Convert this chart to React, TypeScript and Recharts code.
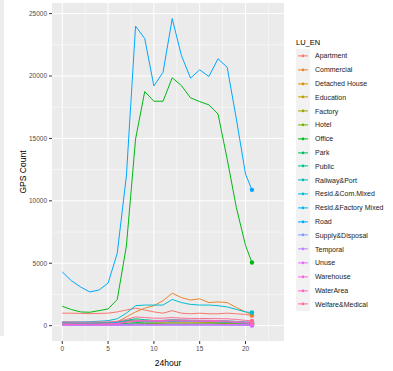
import React from "react";
import { LineChart, Line, XAxis, YAxis, CartesianGrid, Label } from "recharts";

// hour of day (last sample sits just past 20)
const hours = [0, 1, 2, 3, 4, 5, 6, 7, 8, 9, 10, 11, 12, 13, 14, 15, 16, 17, 18, 19, 20, 20.7];

const landUses = [
  "Apartment",
  "Commercial",
  "Detached House",
  "Education",
  "Factory",
  "Hotel",
  "Office",
  "Park",
  "Public",
  "Railway&Port",
  "Resid.&Com.Mixed",
  "Resid.&Factory Mixed",
  "Road",
  "Supply&Disposal",
  "Temporal",
  "Unuse",
  "Warehouse",
  "WaterArea",
  "Welfare&Medical",
];

// GPS counts per land use
const apartment = [1000, 1000, 980, 960, 980, 1000, 1100, 1250, 1400, 1250, 1100, 1000, 1200, 1000, 950, 1000, 950, 950, 1000, 950, 900, 800];
const commercial = [120, 110, 100, 100, 100, 120, 300, 700, 1100, 1400, 1600, 2000, 2600, 2250, 2050, 2150, 1850, 1900, 1850, 1450, 1100, 850];
const detachedHouse = [200, 190, 180, 180, 180, 190, 220, 300, 350, 320, 300, 300, 320, 300, 300, 300, 300, 300, 290, 270, 250, 230];
const education = [30, 30, 30, 30, 30, 40, 80, 300, 400, 350, 300, 300, 280, 300, 300, 280, 250, 200, 150, 100, 80, 60];
const factory = [150, 140, 130, 130, 140, 160, 250, 400, 450, 380, 350, 360, 380, 360, 350, 350, 340, 330, 300, 260, 220, 200];
const hotel = [100, 90, 80, 80, 80, 90, 100, 130, 160, 170, 170, 180, 200, 190, 190, 190, 190, 190, 180, 160, 140, 120];
const office = [1550, 1290, 1100, 1070, 1200, 1340, 2090, 6380, 14950, 18760, 17980, 17980, 19860, 19240, 18250, 17950, 17690, 16960, 13340, 9460, 6430, 5060];
const park = [80, 70, 60, 60, 60, 70, 100, 180, 250, 280, 300, 320, 350, 340, 340, 330, 320, 300, 270, 220, 170, 150];
const publicUse = [250, 240, 230, 230, 240, 260, 300, 420, 550, 480, 420, 420, 480, 450, 430, 420, 420, 400, 380, 340, 300, 280];
const railwayPort = [50, 50, 50, 50, 50, 50, 60, 80, 100, 100, 100, 100, 100, 100, 100, 100, 100, 100, 90, 80, 70, 60];
const residCom = [300, 300, 300, 320, 350, 400, 550, 1000, 1600, 1650, 1650, 1650, 2100, 1850, 1700, 1650, 1650, 1600, 1500, 1300, 1100, 1050];
const residFactory = [200, 200, 190, 190, 200, 210, 250, 330, 380, 350, 330, 330, 360, 340, 330, 330, 330, 320, 300, 280, 250, 230];
const road = [4300, 3600, 3100, 2700, 2850, 3400, 5800, 12000, 24000, 23000, 19200, 20300, 24600, 21650, 19830, 20500, 19960, 21380, 20700, 16560, 12140, 10880];
const supplyDisposal = [20, 20, 20, 20, 20, 20, 30, 40, 50, 50, 50, 50, 50, 50, 50, 50, 50, 50, 40, 40, 30, 30];
const temporal = [10, 10, 10, 10, 10, 10, 15, 20, 30, 30, 30, 30, 30, 30, 30, 30, 30, 30, 25, 20, 15, 15];
const unuse = [60, 60, 60, 60, 60, 60, 70, 100, 120, 110, 110, 110, 120, 110, 110, 110, 110, 100, 100, 90, 80, 70];
const warehouse = [100, 100, 100, 100, 100, 110, 150, 300, 400, 380, 350, 350, 380, 360, 350, 350, 340, 330, 300, 250, 200, 180];
const waterArea = [150, 130, 120, 110, 120, 140, 180, 280, 350, 380, 400, 420, 450, 440, 430, 430, 420, 400, 370, 320, 270, 240];
const welfareMedical = [300, 290, 280, 280, 290, 300, 350, 500, 700, 650, 600, 600, 650, 600, 580, 580, 570, 560, 550, 500, 420, 380];

const seriesValues = [
  apartment, commercial, detachedHouse, education, factory, hotel, office, park, publicUse, railwayPort,
  residCom, residFactory, road, supplyDisposal, temporal, unuse, warehouse, waterArea, welfareMedical,
];

const xTicks = [0, 5, 10, 15, 20];
const xMinor = [2.5, 7.5, 12.5, 17.5, 22.5];
const yTicks = [0, 5000, 10000, 15000, 20000, 25000];
const yMinor = [2500, 7500, 12500, 17500, 22500];

// ggplot2 default hue palette (hcl, c = 100, l = 65)
const hcl = (h: number, c = 100, l = 65) => {
  const hr = (h * Math.PI) / 180;
  const U = c * Math.cos(hr);
  const V = c * Math.sin(hr);
  const Xn = 95.047, Yn = 100, Zn = 108.883;
  const Y = l > 8 ? Yn * Math.pow((l + 16) / 116, 3) : (Yn * l) / 903.3;
  const t = Xn + 15 * Yn + 3 * Zn;
  const u = U / (13 * l) + (4 * Xn) / t;
  const v = V / (13 * l) + (9 * Yn) / t;
  const X = (9 * Y * u) / (4 * v);
  const Z = -X / 3 - 5 * Y + (3 * Y) / v;
  const x = X / 100, y = Y / 100, z = Z / 100;
  const lin = [
    3.240479 * x - 1.53715 * y - 0.498535 * z,
    -0.969256 * x + 1.875992 * y + 0.041556 * z,
    0.055648 * x - 0.204043 * y + 1.057311 * z,
  ];
  return (
    "#" +
    lin
      .map((ch) => {
        const g = ch <= 0.0031308 ? 12.92 * ch : 1.055 * Math.pow(ch, 1 / 2.4) - 0.055;
        const n = Math.round(Math.min(1, Math.max(0, g)) * 255);
        return n.toString(16).padStart(2, "0");
      })
      .join("")
  );
};

const colors = landUses.map((_, i) => hcl(15 + (360 * i) / landUses.length));

const rows = hours.map((hour, i) => {
  const row: Record<string, number> = { hour };
  landUses.forEach((name, s) => {
    row[name] = seriesValues[s][i];
  });
  return row;
});

const FONT = "'Liberation Sans', Arial, sans-serif";

// only the last sample of each series gets a point
const endDot = (name: string, color: string) => (props: any) => {
  const { cx, cy, index } = props;
  if (index !== hours.length - 1) return <g key={`${name}-${index}`} />;
  return <circle key={`${name}-${index}`} cx={cx} cy={cy} r={2.2} fill={color} stroke="none" />;
};

const LegendBox = () => (
  <div style={{ position: "absolute", left: 296, top: 37, fontFamily: FONT, color: "#000" }}>
    <div style={{ fontSize: 7.5, lineHeight: "12px" }}>LU_EN</div>
    {landUses.map((name, i) => (
      <div key={name} style={{ display: "flex", alignItems: "center", height: 13.8 }}>
        <svg width={14} height={13.8} style={{ background: "#F2F2F2", display: "block" }}>
          <line x1={2} x2={12} y1={6.9} y2={6.9} stroke={colors[i]} strokeWidth={1} />
          <circle cx={7} cy={6.9} r={1.3} fill={colors[i]} />
        </svg>
        <span style={{ fontSize: 7, marginLeft: 5, color: "#1A1A1A", whiteSpace: "nowrap" }}>{name}</span>
      </div>
    ))}
  </div>
);

export default function App() {
  return (
    <div style={{ position: "absolute", left: 0, top: 0, width: 393, height: 371, background: "#fff", fontFamily: FONT }}>
      <div style={{ position: "absolute", left: 0, top: 0, width: 4, height: 336, background: "#EDEDED" }} />
      <LineChart width={393} height={371} data={rows} margin={{ top: 3, right: 109, bottom: 0, left: 0 }}>
        <CartesianGrid fill="#EBEBEB" stroke="#FFFFFF" strokeWidth={0.5} horizontalValues={yMinor} verticalValues={xMinor} />
        <CartesianGrid fill="none" stroke="#FFFFFF" strokeWidth={1} horizontalValues={yTicks} verticalValues={xTicks} />
        <XAxis
          dataKey="hour"
          type="number"
          domain={[-1.12, 24.2]}
          allowDataOverflow
          ticks={xTicks}
          height={30}
          axisLine={false}
          tickSize={3}
          tickMargin={2}
          stroke="#333333"
          tick={{ fontSize: 6.5, fill: "#4D4D4D", fontFamily: FONT }}
        >
          <Label value="24hour" position="insideBottom" offset={5} style={{ fontSize: 8.5, fill: "#000", fontFamily: FONT }} />
        </XAxis>
        <YAxis
          type="number"
          domain={[-1230, 25850]}
          allowDataOverflow
          ticks={yTicks}
          width={52}
          axisLine={false}
          tickSize={3}
          tickMargin={2}
          stroke="#333333"
          tick={{ fontSize: 6.5, fill: "#4D4D4D", fontFamily: FONT }}
        >
          <Label value="GPS Count" angle={-90} position="center" dx={-3} style={{ fontSize: 8.5, fill: "#000", fontFamily: FONT }} />
        </YAxis>
        {landUses.map((name, i) => (
          <Line
            key={name}
            type="linear"
            dataKey={name}
            stroke={colors[i]}
            strokeWidth={1}
            dot={endDot(name, colors[i])}
            activeDot={false}
            isAnimationActive={false}
          />
        ))}
      </LineChart>
      <LegendBox />
    </div>
  );
}
